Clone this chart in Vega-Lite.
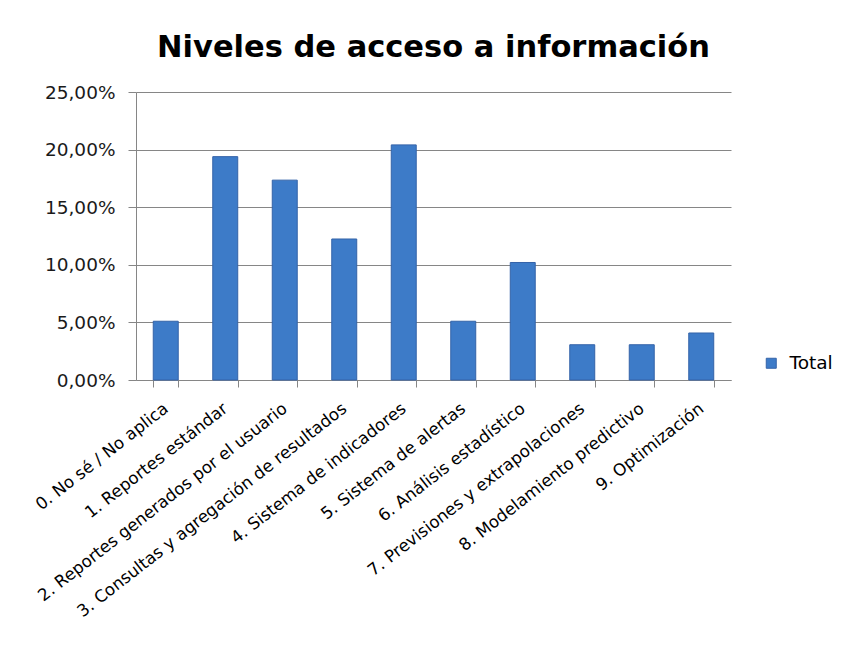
{
  "$schema": "https://vega.github.io/schema/vega-lite/v6.json",
  "width": 595,
  "height": 288,
  "autosize": {"type": "none"},
  "padding": {"left": 136, "top": 92, "right": 117, "bottom": 268},
  "background": "white",
  "title": {
    "text": "Niveles de acceso a información",
    "font": "DejaVu Sans",
    "fontSize": 30.5,
    "fontWeight": "bold",
    "color": "#000000",
    "baseline": "alphabetic",
    "offset": -4,
    "anchor": "middle"
  },
  "data": {
    "values": [
      {"categoria": "0. No sé / No aplica", "valor": 0.0510, "serie": "Total"},
      {"categoria": "1. Reportes estándar", "valor": 0.1939, "serie": "Total"},
      {"categoria": "2. Reportes generados por el usuario", "valor": 0.1735, "serie": "Total"},
      {"categoria": "3. Consultas y agregación de resultados", "valor": 0.1224, "serie": "Total"},
      {"categoria": "4. Sistema de indicadores", "valor": 0.2041, "serie": "Total"},
      {"categoria": "5. Sistema de alertas", "valor": 0.0510, "serie": "Total"},
      {"categoria": "6. Análisis estadístico", "valor": 0.1020, "serie": "Total"},
      {"categoria": "7. Previsiones y extrapolaciones", "valor": 0.0306, "serie": "Total"},
      {"categoria": "8. Modelamiento predictivo", "valor": 0.0306, "serie": "Total"},
      {"categoria": "9. Optimización", "valor": 0.0408, "serie": "Total"}
    ]
  },
  "mark": {"type": "bar", "stroke": "#3463A8", "strokeWidth": 1},
  "encoding": {
    "x": {
      "field": "categoria",
      "type": "nominal",
      "sort": null,
      "scale": {"paddingInner": 0.58, "paddingOuter": 0.29},
      "axis": {
        "title": null,
        "labelAngle": -38,
        "labelAlign": "right",
        "labelBaseline": "top",
        "labelFont": "DejaVu Sans",
        "labelFontSize": 16.75,
        "labelColor": "#000000",
        "labelPadding": 13,
        "labelOffset": -5,
        "labelLimit": 500,
        "labelOverlap": false,
        "tickBand": "extent",
        "tickSize": 7,
        "tickColor": "#868686",
        "domainColor": "#868686",
        "grid": false
      }
    },
    "y": {
      "field": "valor",
      "type": "quantitative",
      "scale": {"domain": [0, 0.25]},
      "axis": {
        "title": null,
        "values": [0, 0.05, 0.1, 0.15, 0.2, 0.25],
        "labelExpr": "replace(format(datum.value, '.2%'), '.', ',')",
        "labelFont": "DejaVu Sans",
        "labelFontSize": 18.5,
        "labelColor": "#1a1a1a",
        "labelPadding": 13,
        "tickSize": 8,
        "tickColor": "#868686",
        "domainColor": "#868686",
        "gridColor": "#868686",
        "gridWidth": 1
      }
    },
    "color": {
      "field": "serie",
      "type": "nominal",
      "scale": {"range": ["#3D7BC8"]},
      "legend": {
        "title": null,
        "orient": "none",
        "legendX": 626,
        "legendY": 262,
        "symbolType": "square",
        "symbolSize": 100,
        "symbolStrokeColor": "#3463A8",
        "symbolStrokeWidth": 1,
        "labelOffset": 9,
        "labelFont": "DejaVu Sans",
        "labelFontSize": 18.5,
        "labelColor": "#000000"
      }
    }
  },
  "config": {
    "view": {"stroke": null}
  }
}
